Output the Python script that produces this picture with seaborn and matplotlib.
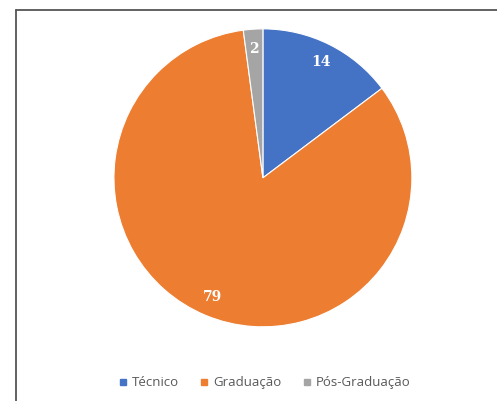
import numpy as np
import seaborn as sns
import matplotlib
matplotlib.use("Agg")
import matplotlib.pyplot as plt
from matplotlib.lines import Line2D

# --- DATA ---
categories = ['Técnico', 'Graduação', 'Pós-Graduação']
values = [14, 79, 2]
colors = ['#4472C4', '#ED7D31', '#A5A5A5']

sns.set_theme(style='white')
plt.rcParams['font.family'] = ['Open Sans', 'DejaVu Sans']

fig = plt.figure(figsize=(4.97, 4.01), dpi=100)
ax = fig.add_axes([0.229, 0.185, 0.6, 0.743])

total = sum(values)
wedges, texts, autotexts = ax.pie(
    values, colors=colors, startangle=90, counterclock=False,
    autopct=lambda p: f"{int(round(p * total / 100))}", pctdistance=0.87,
    wedgeprops=dict(edgecolor='white', linewidth=0.8),
    textprops=dict(color='white', fontweight='bold', family='DejaVu Serif', fontsize=10))
ax.set_xlim(-1, 1); ax.set_ylim(-1, 1)
ax.set_aspect('equal')
ax.axis('off')

# legend
handles = [Line2D([], [], marker='s', linestyle='', color=c, markersize=5) for c in colors]
fig.legend(handles, categories, loc='center', bbox_to_anchor=(0.53, 0.045), ncol=3,
           frameon=False, fontsize=9.5, handletextpad=0.15, columnspacing=1.45,
           handlelength=1.0, labelcolor='#595959')

# frame from the source screenshot
fig.add_artist(Line2D([0.032, 1.0], [0.975, 0.975], transform=fig.transFigure, color='#555555', lw=1.3))
fig.add_artist(Line2D([0.032, 0.032], [0.0, 0.975], transform=fig.transFigure, color='#555555', lw=1.3))

fig.savefig('out.png', dpi=100)
